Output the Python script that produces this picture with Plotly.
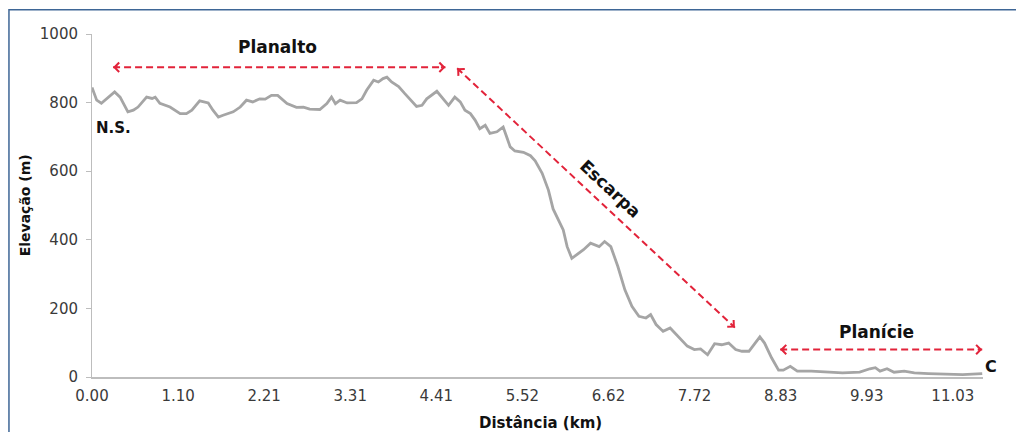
import plotly.graph_objects as go

# perfil topográfico: distância (km) e elevação (m)
distancia_km = [0.00, 0.06, 0.12, 0.19, 0.29, 0.36, 0.46, 0.53, 0.59, 0.70, 0.77, 0.81, 0.87,
                1.00, 1.13, 1.21, 1.28, 1.38, 1.49, 1.55, 1.62, 1.68, 1.81, 1.90, 1.98,
                2.06, 2.15, 2.22, 2.30, 2.38, 2.50, 2.62, 2.71, 2.79, 2.92, 3.01, 3.07,
                3.12, 3.18, 3.27, 3.39, 3.46, 3.52, 3.61, 3.67, 3.73, 3.78, 3.84, 3.93,
                4.01, 4.10, 4.16, 4.23, 4.29, 4.42, 4.50, 4.57, 4.65, 4.72, 4.78, 4.85,
                4.91, 4.97, 5.04, 5.10, 5.19, 5.27, 5.36, 5.42, 5.53, 5.62, 5.68, 5.77,
                5.85, 5.91, 6.04, 6.09, 6.15, 6.21, 6.30, 6.39, 6.50, 6.57, 6.65, 6.74,
                6.83, 6.92, 7.01, 7.10, 7.16, 7.23, 7.32, 7.41, 7.49, 7.63, 7.72, 7.80,
                7.89, 7.98, 8.07, 8.16, 8.25, 8.33, 8.42, 8.47, 8.56, 8.62, 8.71, 8.80,
                8.86, 8.95, 9.04, 9.22, 9.39, 9.62, 9.84, 9.97, 10.04, 10.10, 10.19,
                10.28, 10.41, 10.54, 10.72, 10.94, 11.16, 11.41]
elevacao_m = [844, 807, 798, 812, 831, 816, 773, 778, 787, 816, 812, 816, 798,
              787, 768, 768, 778, 805, 799, 778, 758, 763, 773, 787, 807,
              802, 811, 810, 821, 821, 797, 786, 787, 781, 780, 797, 816,
              797, 807, 799, 800, 811, 836, 865, 860, 870, 874, 860, 847,
              826, 802, 789, 792, 811, 833, 811, 792, 816, 802, 778, 768,
              749, 724, 734, 710, 715, 729, 671, 659, 655, 645, 630, 594,
              545, 490, 429, 380, 346, 356, 371, 390, 380, 395, 380, 322,
              254, 206, 177, 172, 182, 153, 133, 143, 124, 90, 80, 82,
              65, 97, 94, 99, 80, 75, 75, 90, 117, 99, 56, 20,
              20, 31, 17, 17, 14, 12, 14, 24, 27, 17, 24,
              14, 17, 12, 10, 9, 7, 10]

x_tick_vals = [0.0, 1.1033, 2.2066, 3.3099, 4.4132, 5.5165, 6.6198, 7.7231, 8.8264, 9.9297, 11.033]
x_tick_text = ["0.00", "1.10", "2.21", "3.31", "4.41", "5.52", "6.62", "7.72", "8.83", "9.93", "11.03"]
y_tick_vals = [0, 200, 400, 600, 800, 1000]

# setas tracejadas (início e fim em km / m)
setas = {
    "Planalto": [(0.27, 903), (4.53, 903)],
    "Escarpa": [(4.68, 900), (8.24, 144)],
    "Planície": [(8.82, 80), (11.41, 80)],
}
# rótulos: texto, x, y, ângulo
rotulos = [
    ("Planalto", 2.38, 962, 0),
    ("Escarpa", 6.65, 549, 43),
    ("Planície", 10.06, 132, 0),
]

FONTE = "DejaVu Sans"
VERMELHO = "#E2233A"
CINZA = "#A5A5A5"

fig = go.Figure()
fig.add_trace(go.Scatter(
    x=distancia_km, y=elevacao_m, mode="lines",
    line=dict(color=CINZA, width=2.8), hoverinfo="skip", showlegend=False
))

for nome, ((x0, y0), (x1, y1)) in setas.items():
    fig.add_shape(type="line", x0=x0, y0=y0, x1=x1, y1=y1, xref="x", yref="y",
                  line=dict(color=VERMELHO, width=2, dash="7px,4px"))
    # pontas em forma de "<" e ">" nas duas extremidades
    for (hx, hy), (tx, ty) in [((x0, y0), (x1, y1)), ((x1, y1), (x0, y0))]:
        dx, dy = tx - hx, ty - hy
        # direção em pixels (78 px/km, 0.344 px/m)
        px, py = dx * 78, -dy * 0.344
        n = (px ** 2 + py ** 2) ** 0.5
        fig.add_annotation(x=hx, y=hy, ax=6 * px / n, ay=6 * py / n, text="",
                           showarrow=True, arrowhead=4, arrowsize=0.9, arrowwidth=2,
                           arrowcolor=VERMELHO, standoff=0)

for texto, x, y, ang in rotulos:
    fig.add_annotation(x=x, y=y, text=f"<b>{texto}</b>", showarrow=False, textangle=ang,
                       font=dict(family=FONTE, size=17, color="#111111"))

fig.add_annotation(x=0.03, y=725, text="<b>N.S.</b>", showarrow=False, xanchor="left",
                   font=dict(family=FONTE, size=15, color="#111111"))
fig.add_annotation(x=1.009, y=0.031, xref="paper", yref="paper", text="<b>C</b>", showarrow=False,
                   xanchor="center", yanchor="middle",
                   font=dict(family=FONTE, size=16, color="#111111"))

# títulos dos eixos
fig.add_annotation(x=0.503, y=-0.133, xref="paper", yref="paper", text="<b>Distância (km)</b>",
                   showarrow=False, xanchor="center", yanchor="middle",
                   font=dict(family=FONTE, size=15, color="#111111"))
fig.add_annotation(x=-0.075, y=0.501, xref="paper", yref="paper", text="<b>Elevação (m)</b>",
                   showarrow=False, textangle=-90, xanchor="center", yanchor="middle",
                   font=dict(family=FONTE, size=14, color="#111111"))

# moldura azul (só os lados esquerdo e superior ficam visíveis)
fig.add_shape(type="rect", xref="paper", yref="paper", x0=-0.0932, x1=1.2, y0=-0.4, y1=1.071,
              line=dict(color="#3E6696", width=1.5), layer="below")

fig.update_layout(
    width=1016, height=424,
    margin=dict(l=84, r=41, t=26, b=55),
    paper_bgcolor="white", plot_bgcolor="white",
    font=dict(family=FONTE, size=15, color="#3A3A3A"),
    showlegend=False,
)
fig.update_xaxes(range=[0, 11.42], tickvals=x_tick_vals, ticktext=x_tick_text,
                 showgrid=False, zeroline=False, showline=True, linecolor="#BDBDBD", linewidth=1.5,
                 ticks="", ticklabelstandoff=4)
fig.update_yaxes(range=[0, 1000], tickvals=y_tick_vals,
                 showgrid=False, zeroline=False, showline=True, linecolor="#BDBDBD", linewidth=1,
                 ticks="outside", ticklen=5, tickcolor="#BDBDBD", ticklabelstandoff=5)

fig.write_html("out.html")
